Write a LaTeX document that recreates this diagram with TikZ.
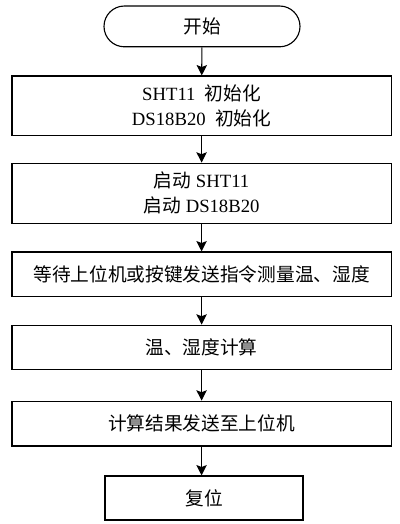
\documentclass[tikz,border=0pt]{standalone}
\usepackage{fontspec}
\setmainfont{Liberation Serif}
\newfontfamily\cjk{Noto Sans CJK SC}
\usetikzlibrary{arrows.meta}

\begin{document}
\begin{tikzpicture}[>={Stealth[length=2.6mm,width=2.6mm,inset=0.5mm]}, line width=0.8pt,
    stepbox/.style={draw, rectangle, minimum width=9.48cm, inner sep=0pt, align=center,
        font=\fontsize{13.3}{17.8}\selectfont},
    endbox/.style={stepbox, minimum width=4.95cm, minimum height=1.1cm},
    startbox/.style={stepbox, minimum width=4.9cm, minimum height=1.02cm, rounded corners=0.51cm},
    flow/.style={->}]
    \useasboundingbox (0,0) rectangle (10,-13.1);

    % Start
    \node[startbox] (start) at (5.05,-0.66) {\cjk 开始};

    % Init and launch of the sensors
    \node[stepbox, minimum height=1.48cm] (init) at (5.04,-2.64)
        {SHT11\hspace{0.5em}{\cjk 初始化}\\DS18B20\hspace{0.5em}{\cjk 初始化}};
    \node[stepbox, minimum height=1.5cm] (launch) at (5.04,-4.83)
        {{\cjk 启动} SHT11\\{\cjk 启动} DS18B20};

    % Measure, compute, send
    \node[stepbox, minimum height=1.12cm] (wait) at (5.04,-6.86)
        {\cjk 等待上位机或按键发送指令测量温、湿度};
    \node[stepbox, minimum height=1.1cm] (calc) at (5.04,-8.68) {\cjk 温、湿度计算};
    \node[stepbox, minimum height=1.12cm] (send) at (5.04,-10.59) {\cjk 计算结果发送至上位机};

    % Reset
    \node[endbox] (reset) at (5.1,-12.45) {\cjk 复位};

    % Arrows
    \draw[flow] (start) -- (init);
    \draw[flow] (init) -- (launch);
    \draw[flow] (launch) -- (wait);
    \draw[flow] (wait) -- (calc);
    \draw[flow] (calc) -- (send);
    \draw[flow] (send.south) -- (send.south |- reset.north);
\end{tikzpicture}
\end{document}
